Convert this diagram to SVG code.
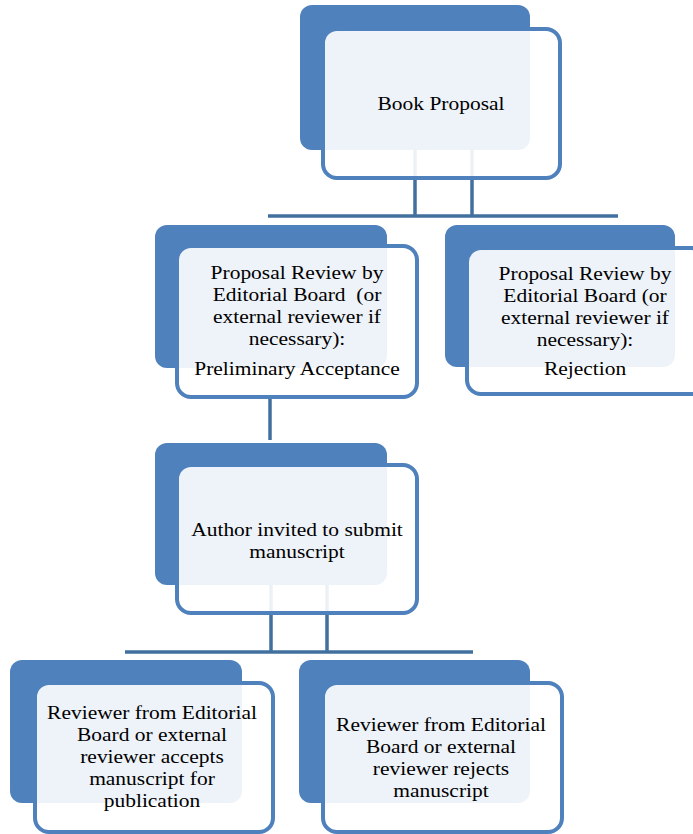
<svg xmlns="http://www.w3.org/2000/svg" width="693" height="834" viewBox="0 0 693 834">
<style>
.back{fill:#4f81bd;}
.front{fill:#ffffff;fill-opacity:0.9;stroke:#4f81bd;stroke-width:4;}
.conn{stroke:#41709f;stroke-width:3.5;fill:none;}
text{font-family:"Liberation Serif","Times New Roman",serif;font-size:19.7px;fill:#000;text-anchor:middle;}
</style>
<rect width="693" height="834" fill="#ffffff"/>
<g id="connectors">
<line class="conn" x1="415" y1="150" x2="415" y2="216"/>
<line class="conn" x1="472" y1="150" x2="472" y2="216"/>
<line class="conn" x1="268" y1="216" x2="618" y2="216"/>
<line class="conn" x1="270" y1="395" x2="270" y2="440"/>
<line class="conn" x1="271" y1="585" x2="271" y2="652"/>
<line class="conn" x1="327" y1="585" x2="327" y2="652"/>
<line class="conn" x1="125" y1="652" x2="473" y2="652"/>
</g>
<g id="book-proposal">
<rect class="back" x="300" y="5" width="230" height="145" rx="12"/>
<rect class="front" x="323" y="29" width="237" height="149" rx="14"/>
<text transform="translate(441,110) scale(1.09,1)">Book Proposal</text>
</g>
<g id="preliminary-acceptance">
<rect class="back" x="155" y="225" width="232" height="143" rx="12"/>
<rect class="front" x="177" y="246" width="240" height="151" rx="14"/>
<text transform="translate(297,279) scale(1.09,1)">Proposal Review by</text>
<text transform="translate(297,301) scale(1.09,1)" xml:space="preserve">Editorial Board  (or</text>
<text transform="translate(297,323) scale(1.09,1)">external reviewer if</text>
<text transform="translate(297,345) scale(1.09,1)">necessary):</text>
<text transform="translate(297,375) scale(1.09,1)">Preliminary Acceptance</text>
</g>
<g id="rejection">
<rect class="back" x="445" y="225" width="230" height="142" rx="12"/>
<rect class="front" x="467" y="248" width="238" height="146" rx="14"/>
<text transform="translate(585,280) scale(1.09,1)">Proposal Review by</text>
<text transform="translate(585,302) scale(1.09,1)">Editorial Board (or</text>
<text transform="translate(585,324) scale(1.09,1)">external reviewer if</text>
<text transform="translate(585,346) scale(1.09,1)">necessary):</text>
<text transform="translate(585,375) scale(1.09,1)">Rejection</text>
</g>
<g id="author-invited">
<rect class="back" x="155" y="443" width="232" height="142" rx="12"/>
<rect class="front" x="177" y="465" width="240" height="148" rx="14"/>
<text transform="translate(297,536) scale(1.09,1)">Author invited to submit</text>
<text transform="translate(297,558) scale(1.09,1)">manuscript</text>
</g>
<g id="accepts">
<rect class="back" x="10" y="660" width="232" height="143" rx="12"/>
<rect class="front" x="35" y="683" width="238" height="149" rx="14"/>
<text transform="translate(152,719) scale(1.09,1)">Reviewer from Editorial</text>
<text transform="translate(152,741) scale(1.09,1)">Board or external</text>
<text transform="translate(152,763) scale(1.09,1)">reviewer accepts</text>
<text transform="translate(152,785) scale(1.09,1)">manuscript for</text>
<text transform="translate(152,807) scale(1.09,1)">publication</text>
</g>
<g id="rejects">
<rect class="back" x="299" y="660" width="231" height="143" rx="12"/>
<rect class="front" x="323" y="683" width="239" height="149" rx="14"/>
<text transform="translate(441,731) scale(1.09,1)">Reviewer from Editorial</text>
<text transform="translate(441,753) scale(1.09,1)">Board or external</text>
<text transform="translate(441,775) scale(1.09,1)">reviewer rejects</text>
<text transform="translate(441,797) scale(1.09,1)">manuscript</text>
</g>
</svg>
